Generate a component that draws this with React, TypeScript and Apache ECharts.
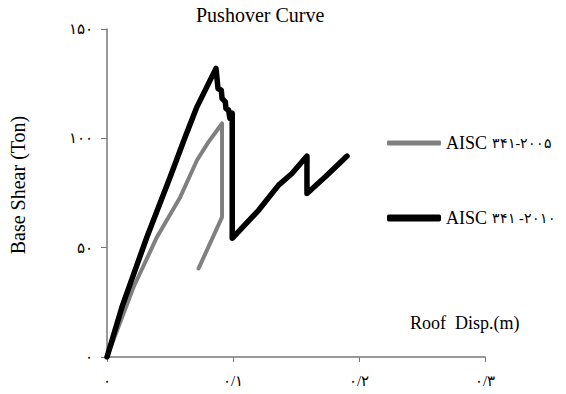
import React, { useEffect, useRef } from "react";
import * as echarts from "echarts";

// Roof displacement (m) and base shear (Ton)
const disp2005 = [0, 0.0211, 0.0397, 0.0582, 0.0714, 0.0806, 0.0913, 0.0913, 0.0727];
const shear2005 = [0, 32, 54.9, 73.2, 90, 98.4, 106.8, 64, 40.5];

const disp2010 = [0, 0.0119, 0.0317, 0.0502, 0.0621, 0.0714, 0.0865, 0.0881, 0.0907, 0.0913, 0.0939, 0.0944, 0.0965, 0.0975, 0.0994, 0.0994, 0.1005, 0.1203, 0.1362, 0.1468, 0.1587, 0.1587, 0.1733, 0.1905];
const shear2010 = [0, 22.9, 54.9, 82.4, 100.7, 114.4, 132, 122.8, 122, 118.3, 116.7, 113.7, 112.9, 109.2, 111.5, 54.3, 54.9, 67.1, 78.6, 83.9, 91.9, 74.8, 82.4, 91.9];

const seriesNames = ["AISC ۳۴۱-۲۰۰۵", "AISC ۳۴۱ -۲۰۱۰"];
const xTickLabels = ["۰", "۰/۱", "۰/۲", "۰/۳"];
const yTickLabels = ["۰", "۵۰", "۱۰۰", "۱۵۰"];

const titleText = "Pushover Curve";
const xAxisTitle = "Roof  Disp.(m)";
const yAxisTitle = "Base Shear (Ton)";

const SERIF = "'Liberation Serif', 'DejaVu Serif', serif";

const legendText = {
  color: "#000",
  fontSize: 18,
  fontFamily: SERIF,
  lineHeight: 20,
  rich: {
    a: { color: "#000", fontSize: 18, fontFamily: SERIF },
    b: { color: "#000", fontSize: 14, fontFamily: SERIF },
  },
};
const legendFormatter = (name: string) => {
  const i = name.indexOf(" ");
  return `{a|${name.slice(0, i)} }{b|${name.slice(i + 1)}}`;
};

export default function App() {
  const ref = useRef<HTMLDivElement>(null);
  useEffect(() => {
    if (!ref.current) return;
    const chart = echarts.init(ref.current, null, { renderer: "svg" });
    const pair = (xs: number[], ys: number[]) => xs.map((x, i) => [x, ys[i]]);
    chart.setOption({
      animation: false,
      backgroundColor: "#ffffff",
      grid: { left: 107, right: 81, top: 29, bottom: 37, containLabel: false },
      xAxis: {
        type: "value",
        min: 0,
        max: 0.3,
        interval: 0.1,
        axisLine: { lineStyle: { color: "#777", width: 1.5 } },
        axisTick: { show: true, length: 5, lineStyle: { color: "#777" } },
        splitLine: { show: false },
        axisLabel: {
          margin: 16,
          color: "#000",
          fontSize: 15,
          fontFamily: SERIF,
          formatter: (v: number) => xTickLabels[Math.round(v / 0.1)] ?? "",
        },
      },
      yAxis: {
        type: "value",
        min: 0,
        max: 150,
        interval: 50,
        axisLine: { show: true, lineStyle: { color: "#777", width: 1.5 } },
        axisTick: { show: true, length: 6, lineStyle: { color: "#777" } },
        splitLine: { show: false },
        axisLabel: {
          margin: 14,
          color: "#000",
          fontSize: 15,
          fontFamily: SERIF,
          formatter: (v: number) => yTickLabels[Math.round(v / 50)] ?? "",
        },
      },
      legend: [
        {
          data: [seriesNames[0]],
          left: 387,
          top: 133,
          orient: "vertical",
          icon: "roundRect",
          itemWidth: 54,
          itemHeight: 5,
          itemGap: 0,
          padding: 0,
          formatter: legendFormatter,
          textStyle: legendText,
        },
        {
          data: [seriesNames[1]],
          left: 387,
          top: 208,
          orient: "vertical",
          icon: "roundRect",
          itemWidth: 54,
          itemHeight: 7,
          itemGap: 0,
          padding: 0,
          formatter: legendFormatter,
          textStyle: legendText,
        },
      ],
      series: [
        {
          name: seriesNames[0],
          type: "line",
          data: pair(disp2005, shear2005),
          showSymbol: false,
          symbol: "none",
          color: "#808080",
          lineStyle: { color: "#808080", width: 4, cap: "round", join: "round" },
          z: 2,
        },
        {
          name: seriesNames[1],
          type: "line",
          data: pair(disp2010, shear2010),
          showSymbol: false,
          symbol: "none",
          color: "#000000",
          lineStyle: { color: "#000000", width: 5.5, cap: "round", join: "round" },
          z: 3,
        },
      ],
      graphic: [
        {
          type: "text",
          left: 196,
          top: 5,
          style: { text: titleText, fill: "#000", fontSize: 20, fontFamily: SERIF },
        },
        {
          type: "text",
          left: 410,
          top: 314,
          style: { text: xAxisTitle, fill: "#000", fontSize: 18, fontFamily: SERIF },
        },
        {
          type: "text",
          x: 18,
          y: 185,
          rotation: Math.PI / 2,
          style: {
            text: yAxisTitle,
            fill: "#000",
            fontSize: 20,
            fontFamily: SERIF,
            align: "center",
            verticalAlign: "middle",
          },
        },
      ],
    });
    return () => chart.dispose();
  }, []);
  return (
    <div
      ref={ref}
      style={{ position: "absolute", left: 0, top: 0, width: 566, height: 394 }}
    />
  );
}
